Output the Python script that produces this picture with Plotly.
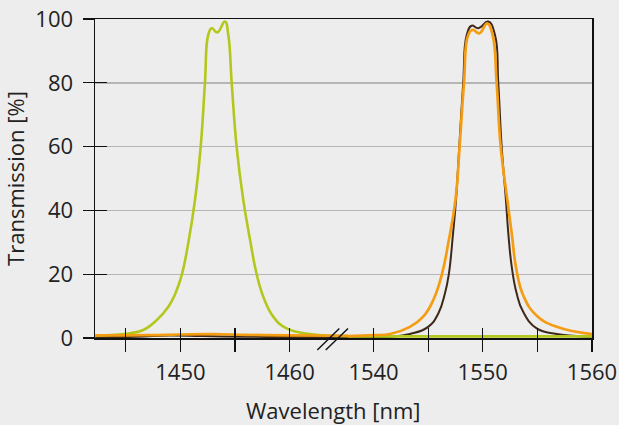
import plotly.graph_objects as go

# ---- data (wavelength in nm, transmission in %) ----
green_left_nm = [1442.2, 1444.0, 1445.38, 1446.6, 1447.83, 1448.9, 1449.55, 1450.12, 1450.72, 1451.34,
                 1451.86, 1452.25, 1452.55, 1452.87, 1453.38, 1454.08, 1454.39, 1454.7, 1455.15,
                 1455.76, 1456.44, 1456.92, 1457.6, 1458.5, 1459.73, 1461.87, 1463.5, 1465.35]
green_left_t = [0.7, 1.0, 1.5, 2.5, 5.6, 9.8, 14.0, 19.7, 29.7, 43.3,
                60.0, 80.0, 95.0, 97.1, 95.8, 99.2, 95.0, 80.0, 60.0,
                43.3, 29.7, 21.0, 12.9, 6.7, 3.0, 1.25, 0.8, 0.6]
green_right_nm = [1537.66, 1545.0, 1550.0, 1555.0, 1560.0]
green_right_t = [0.5, 0.5, 0.5, 0.5, 0.5]

orange_left_nm = [1442.2, 1447.0, 1450.0, 1453.0, 1456.0, 1460.0, 1465.35]
orange_left_t = [0.8, 0.9, 1.1, 1.2, 1.0, 0.8, 0.7]
orange_right_nm = [1537.66, 1540.0, 1541.5, 1543.33, 1544.55, 1545.47, 1546.24, 1546.84, 1547.5,
                   1547.88, 1548.28, 1548.67, 1549.08, 1549.68, 1550.41, 1550.9, 1551.27, 1551.64,
                   1552.25, 1552.65, 1553.1, 1553.75, 1554.94, 1556.77, 1560.0]
orange_right_t = [0.6, 0.9, 1.25, 3.5, 6.7, 11.9, 19.7, 29.7, 43.3,
                  60.0, 80.0, 95.0, 96.6, 95.5, 98.6, 95.0, 80.0, 60.0,
                  43.3, 32.8, 21.0, 13.0, 7.0, 3.5, 1.2]

brown_left_nm = [1442.2, 1446.0, 1449.0, 1452.0, 1456.0, 1460.0, 1465.35]
brown_left_t = [0.3, 0.4, 0.8, 0.6, 0.4, 0.3, 0.2]
brown_right_nm = [1537.66, 1540.0, 1541.5, 1543.33, 1545.0, 1545.93, 1546.54, 1546.88, 1547.28,
                  1547.55, 1547.85, 1548.21, 1548.53, 1548.98, 1549.6, 1550.5, 1551.12, 1551.42,
                  1551.73, 1552.12, 1552.34, 1552.65, 1553.1, 1553.7, 1554.94, 1556.77, 1560.0]
brown_right_t = [0.2, 0.3, 0.4, 1.25, 3.5, 7.7, 14.0, 19.7, 32.8,
                 43.3, 59.9, 80.0, 95.0, 97.9, 97.1, 99.2, 95.0, 80.0,
                 60.0, 43.3, 32.8, 22.4, 14.0, 8.2, 3.0, 1.25, 0.4]

y_ticks = [0, 20, 40, 60, 80, 100]
x_left_ticks = [1445, 1450, 1455, 1460]
x_left_labels = ["", "1450", "", "1460"]
x_right_ticks = [1540, 1545, 1550, 1555, 1560]
x_right_labels = ["1540", "", "1550", "", "1560"]

GREEN = "#b3c71c"
ORANGE = "#f59d12"
BROWN = "#3e2818"
BG = "#ededed"
FONT = "Open Sans"
FS = 22
TXT = "#222222"

fig = go.Figure()

def add(xs, ys, color, width, axis):
    fig.add_trace(go.Scatter(x=xs, y=ys, mode="lines", xaxis=axis, yaxis="y",
                             line=dict(color=color, width=width, shape="spline", smoothing=1.3),
                             showlegend=False, hoverinfo="skip", cliponaxis=True))

add(brown_left_nm, brown_left_t, BROWN, 2.0, "x")
add(brown_right_nm, brown_right_t, BROWN, 2.0, "x2")
add(green_left_nm, green_left_t, GREEN, 2.6, "x")
add(green_right_nm, green_right_t, GREEN, 2.6, "x2")
add(orange_left_nm, orange_left_t, ORANGE, 2.7, "x")
add(orange_right_nm, orange_right_t, ORANGE, 2.7, "x2")

# empty traces so the overlay axes are drawn
fig.add_trace(go.Scatter(x=[], y=[], xaxis="x3", yaxis="y2", showlegend=False))
fig.add_trace(go.Scatter(x=[], y=[], xaxis="x4", yaxis="y3", showlegend=False))

split = 0.509
left_range = [1442.18, 1465.35]
right_range = [1537.66, 1560.0]
tickfont = dict(family=FONT, size=FS, color=TXT)

common_x = dict(showline=True, linecolor="#111111", linewidth=1.5, mirror=True,
                showgrid=False, zeroline=False, tickcolor="#111111", tickwidth=1.3,
                tickfont=tickfont, fixedrange=True, automargin=False)

fig.update_layout(
    width=619, height=425,
    margin=dict(l=95, r=27, t=19, b=87),
    paper_bgcolor=BG, plot_bgcolor=BG,
    font=dict(family=FONT, size=FS, color=TXT),
    xaxis=dict(domain=[0, split], range=left_range, anchor="y",
               tickmode="array", tickvals=x_left_ticks, ticktext=x_left_labels,
               ticks="outside", ticklen=12, ticklabelstandoff=2, **common_x),
    xaxis2=dict(domain=[split, 1], range=right_range, anchor="y",
                tickmode="array", tickvals=x_right_ticks, ticktext=x_right_labels,
                ticks="outside", ticklen=12, ticklabelstandoff=2, **common_x),
    xaxis3=dict(overlaying="x", domain=[0, split], range=left_range, anchor="y2",
                tickmode="array", tickvals=x_left_ticks, showticklabels=False,
                ticks="inside", ticklen=10, tickcolor="#111111", tickwidth=1.3,
                showline=False, showgrid=False, zeroline=False, automargin=False),
    xaxis4=dict(overlaying="x2", domain=[split, 1], range=right_range, anchor="y3",
                tickmode="array", tickvals=x_right_ticks, showticklabels=False,
                ticks="inside", ticklen=10, tickcolor="#111111", tickwidth=1.3,
                showline=False, showgrid=False, zeroline=False, automargin=False),
    yaxis=dict(range=[0, 100], anchor="x", side="left",
               tickmode="array", tickvals=y_ticks,
               ticks="outside", ticklen=11, tickcolor="#111111", tickwidth=1.3,
               ticklabelstandoff=5, tickfont=tickfont,
               showline=True, linecolor="#111111", linewidth=1.5,
               showgrid=True, gridcolor="#b5b5b5", gridwidth=1.4, zeroline=False,
               automargin=False,
               title=dict(text="Transmission [%]", font=dict(family=FONT, size=FS, color=TXT),
                          standoff=10),
               fixedrange=True),
    yaxis2=dict(overlaying="y", range=[0, 100], anchor="x", side="left",
                tickmode="array", tickvals=y_ticks, showticklabels=False,
                ticks="inside", ticklen=12, tickcolor="#111111", tickwidth=1.3,
                showline=False, showgrid=False, zeroline=False, automargin=False),
    yaxis3=dict(overlaying="y", range=[0, 100], anchor="x2", side="right",
                showticklabels=False, ticks="", showline=True, linecolor="#111111",
                linewidth=1.5, showgrid=False, zeroline=False, automargin=False),
    annotations=[dict(text="Wavelength [nm]", xref="paper", yref="paper",
                      x=0.48, y=-0.225, xanchor="center", yanchor="middle", showarrow=False,
                      font=dict(family=FONT, size=FS, color=TXT))],
    shapes=[
        dict(type="line", xref="paper", yref="paper", x0=0.4473, y0=-0.038, x1=0.4916, y1=0.030,
             line=dict(color="#111111", width=1.4)),
        dict(type="line", xref="paper", yref="paper", x0=0.4642, y0=-0.038, x1=0.5091, y1=0.030,
             line=dict(color="#111111", width=1.4)),
    ],
)

fig.write_html("out.html", config={"displayModeBar": False, "staticPlot": True},
               post_script="document.body.style.margin='0';document.body.style.overflow='hidden';")
